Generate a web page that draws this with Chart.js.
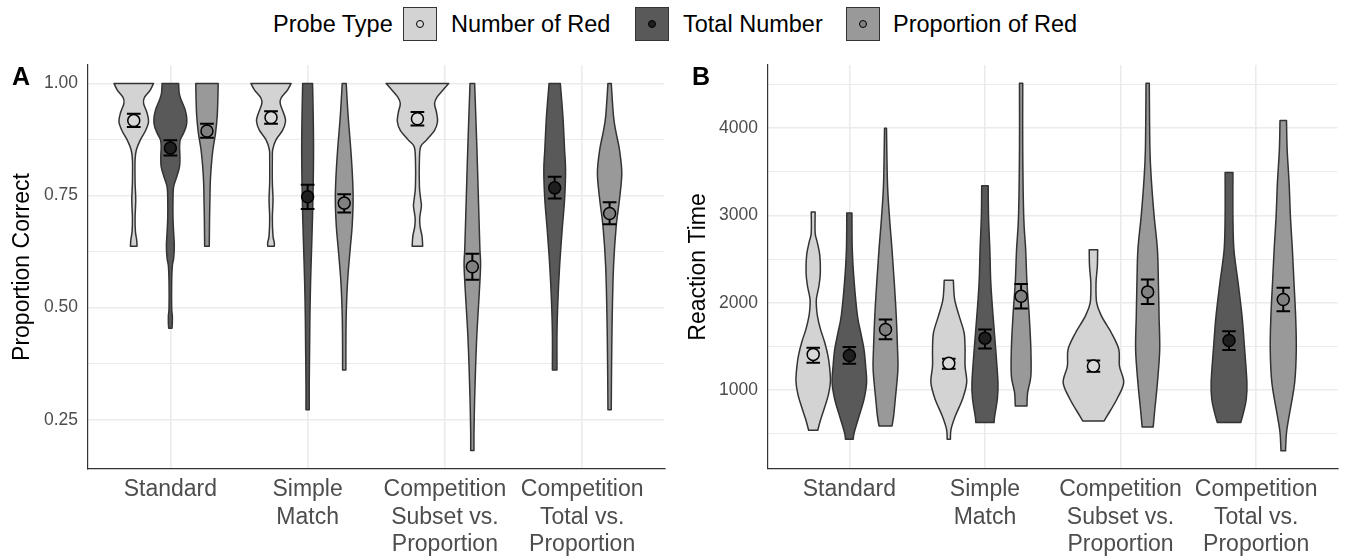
<!DOCTYPE html>
<html>
<head>
<meta charset="utf-8">
<script src="https://cdn.jsdelivr.net/npm/chart.js@4.4.1/dist/chart.umd.min.js"></script>
<style>
  body { margin: 0; background: #fff; width: 1345px; height: 558px; overflow: hidden; position: relative;
         font-family: 'Liberation Sans', Arial, sans-serif; }
  .lg { position: absolute; top: 7px; height: 35px; line-height: 35px; font-size: 23.5px; color: #000; white-space: nowrap; }
  .key { position: absolute; top: 7px; width: 32px; height: 32px; border: 1.5px solid #333; }
  .key i { position: absolute; left: 50%; top: 50%; width: 6px; height: 6px; margin: -4px 0 0 -4px;
           border: 1.2px solid #000; border-radius: 50%; }
  canvas { position: absolute; top: 0; }
  #chartA { left: 0; }
  #chartB { left: 680px; }
</style>
</head>
<body>
<span class="lg" style="left:273px">Probe Type</span>
<div class="key" style="left:403px;background:#d3d3d3"><i style="background:#d9d9d9"></i></div>
<span class="lg" style="left:451px">Number of Red</span>
<div class="key" style="left:635px;background:#595959"><i style="background:#1f1f1f"></i></div>
<span class="lg" style="left:683px">Total Number</span>
<div class="key" style="left:846px;background:#999999"><i style="background:#808080"></i></div>
<span class="lg" style="left:893px">Proportion of Red</span>
<canvas id="chartA" width="672" height="558"></canvas>
<canvas id="chartB" width="665" height="558"></canvas>
<script>
// categories and probe types
const categories = [['Standard'], ['Simple', 'Match'], ['Competition', 'Subset vs.', 'Proportion'], ['Competition', 'Total vs.', 'Proportion']];
const probeTypes = ['Number of Red', 'Total Number', 'Proportion of Red'];
const violinColors = ['#d3d3d3', '#595959', '#999999'];
const pointColors = ['#d9d9d9', '#1f1f1f', '#808080'];

// Panel A: proportion correct (mean, lower, upper of error bar); null = condition not tested
const accMeanNumberRed = [0.917, 0.924, 0.921, null];
const accLowNumberRed  = [0.903, 0.910, 0.906, null];
const accHighNumberRed = [0.932, 0.938, 0.936, null];
const accMeanTotal = [0.856, 0.747, null, 0.767];
const accLowTotal  = [0.839, 0.720, null, 0.743];
const accHighTotal = [0.873, 0.774, null, 0.792];
const accMeanProportion = [0.894, 0.733, 0.591, 0.710];
const accLowProportion  = [0.879, 0.712, 0.562, 0.686];
const accHighProportion = [0.910, 0.753, 0.620, 0.735];

// violin outlines: [value, relative density]
const accViolinNumberRed = [
  [[1.00,60],[0.985,50],[0.968,32],[0.955,30],[0.935,40],[0.915,45],[0.895,36],[0.874,20],[0.852,8],[0.83,4],[0.78,4],[0.74,6],[0.70,4],[0.67,5],[0.65,9],[0.637,10]],
  [[1.00,61],[0.985,50],[0.968,31],[0.955,28],[0.93,40],[0.915,44],[0.895,35],[0.874,15],[0.852,5],[0.83,4],[0.78,4],[0.74,6],[0.70,4],[0.66,6],[0.645,10],[0.637,10]],
  [[1.00,95],[0.989,82],[0.97,60],[0.955,52],[0.935,58],[0.915,61],[0.895,52],[0.874,28],[0.859,10],[0.83,6],[0.77,6],[0.741,10],[0.726,12],[0.70,7],[0.681,8],[0.659,14],[0.637,16]],
  null
];
const accViolinTotal = [
  [[1.00,25],[0.978,27],[0.963,33],[0.941,45],[0.92,50],[0.904,48],[0.889,40],[0.874,30],[0.859,28],[0.837,29],[0.815,28],[0.793,20],[0.77,10],[0.741,8],[0.70,8],[0.667,10],[0.637,12],[0.61,10],[0.593,6],[0.556,4],[0.50,4],[0.481,6],[0.465,6],[0.454,5]],
  [[1.00,15],[0.926,17],[0.852,18],[0.778,17],[0.704,15],[0.63,12],[0.556,9],[0.481,7],[0.407,6],[0.333,5],[0.272,5]],
  null,
  [[1.00,17],[0.926,25],[0.852,30],[0.807,33],[0.741,30],[0.667,22],[0.593,15],[0.519,10],[0.444,7],[0.361,7]]
];
const accViolinProportion = [
  [[1.00,34],[0.963,33],[0.926,31],[0.889,26],[0.852,18],[0.815,13],[0.778,10],[0.741,9],[0.704,8],[0.637,7]],
  [[1.00,6],[0.926,12],[0.852,20],[0.793,25],[0.741,27],[0.681,24],[0.63,18],[0.556,10],[0.481,6],[0.407,5],[0.361,5]],
  [[1.00,7],[0.852,14],[0.704,20],[0.63,23],[0.593,25],[0.519,20],[0.444,14],[0.37,10],[0.296,7],[0.222,5],[0.181,5]],
  [[1.00,5],[0.926,12],[0.889,20],[0.852,30],[0.80,37],[0.741,30],[0.681,20],[0.593,12],[0.481,8],[0.37,6],[0.272,5]]
];
const accTicks = [0.25, 0.50, 0.75, 1.00];
const accTickLabels = ['0.25', '0.50', '0.75', '1.00'];
const accMinorTicks = [0.375, 0.625, 0.875];

// Panel B: reaction time
const rtMeanNumberRed = [1408, 1305, 1274, null];
const rtLowNumberRed  = [1313, 1244, 1208, null];
const rtHighNumberRed = [1485, 1358, 1339, null];
const rtMeanTotal = [1396, 1594, null, 1568];
const rtLowTotal  = [1302, 1476, null, 1459];
const rtHighTotal = [1493, 1693, null, 1674];
const rtMeanProportion = [1694, 2074, 2124, 2037];
const rtLowProportion  = [1580, 1934, 1986, 1903];
const rtHighProportion = [1808, 2215, 2265, 2170];

const rtViolinNumberRed = [
  [[3039,6],[2800,6],[2700,12],[2550,20],[2350,22],[2200,18],[2050,10],[1950,10],[1846,13],[1700,22],[1550,35],[1400,45],[1274,50],[1100,53],[950,47],[800,35],[650,22],[539,14]],
  [[2257,14],[2037,18],[1846,32],[1656,47],[1465,50],[1274,50],[1084,55],[894,42],[703,20],[551,7],[437,5]],
  [[2608,13],[2417,12],[2227,8],[1999,10],[1846,25],[1750,40],[1656,55],[1465,78],[1274,80],[1084,93],[894,72],[703,42],[646,33]],
  null
];
const rtViolinTotal = [
  [[3027,8],[2608,9],[2227,15],[1846,25],[1656,35],[1465,45],[1274,50],[1084,53],[894,45],[703,30],[513,15],[437,12]],
  [[3339,10],[2989,11],[2608,15],[2227,18],[1846,25],[1465,33],[1084,40],[894,38],[703,30],[627,28]],
  null,
  [[3492,12],[2989,12],[2608,15],[2227,28],[1846,40],[1465,48],[1084,55],[894,53],[750,45],[627,36]]
];
const rtViolinProportion = [
  [[3999,3],[3370,6],[2989,12],[2608,20],[2227,27],[1846,33],[1465,37],[1230,38],[894,30],[703,25],[589,20]],
  [[4513,5],[3751,5],[2989,8],[2608,14],[2227,18],[1846,25],[1465,30],[1160,30],[970,20],[817,18]],
  [[4513,5],[3751,7],[3370,12],[2989,20],[2608,30],[2227,33],[1846,35],[1465,37],[1084,30],[779,22],[577,17]],
  [[4086,10],[3751,12],[3370,18],[2989,22],[2608,28],[2227,33],[1846,38],[1465,40],[1084,35],[703,18],[513,10],[303,7]]
];
const rtTicks = [1000, 2000, 3000, 4000];
const rtTickLabels = ['1000', '2000', '3000', '4000'];
const rtMinorTicks = [500, 1500, 2500, 3500, 4500];

const FONT = "'Liberation Sans', Arial, sans-serif";
const DENSITY_WIDTH = 0.0024; // category units per density unit

function xPos(panel, i, k) {
  const present = [0, 1, 2].filter(g => panel.means[g][i] !== null);
  const n = present.length;
  return i + (present.indexOf(k) - (n - 1) / 2) * 0.8 / n;
}

function spline(ctx, pts) {
  for (let i = 0; i < pts.length - 1; i++) {
    const p0 = pts[i - 1] || pts[i], p1 = pts[i], p2 = pts[i + 1], p3 = pts[i + 2] || p2;
    ctx.bezierCurveTo(p1[0] + (p2[0] - p0[0]) / 6, p1[1] + (p2[1] - p0[1]) / 6,
                      p2[0] - (p3[0] - p1[0]) / 6, p2[1] - (p3[1] - p1[1]) / 6, p2[0], p2[1]);
  }
}

function makePanelPlugin(panel) {
  return {
    id: 'violins',
    beforeDatasetsDraw(chart) {
      const {ctx, chartArea, scales: {x, y}} = chart;
      ctx.save();
      ctx.beginPath();
      ctx.rect(chartArea.left, chartArea.top, chartArea.width, chartArea.height);
      ctx.clip();
      // violins
      categories.forEach((c, i) => {
        [0, 1, 2].forEach(k => {
          const prof = panel.violins[k][i];
          if (!prof) return;
          const cx = xPos(panel, i, k);
          const right = prof.map(([v, d]) => [x.getPixelForValue(cx + d * DENSITY_WIDTH), y.getPixelForValue(v)]);
          const left = prof.map(([v, d]) => [x.getPixelForValue(cx - d * DENSITY_WIDTH), y.getPixelForValue(v)]).reverse();
          ctx.beginPath();
          ctx.moveTo(right[0][0], right[0][1]);
          spline(ctx, right);
          ctx.lineTo(left[0][0], left[0][1]);
          spline(ctx, left);
          ctx.closePath();
          ctx.fillStyle = violinColors[k];
          ctx.fill();
          ctx.lineWidth = 1.5;
          ctx.lineJoin = 'round';
          ctx.strokeStyle = '#333333';
          ctx.stroke();
        });
      });
      // error bars
      ctx.strokeStyle = '#000';
      ctx.lineWidth = 2;
      categories.forEach((c, i) => {
        [0, 1, 2].forEach(k => {
          if (panel.means[k][i] === null) return;
          const cx = xPos(panel, i, k);
          const px = x.getPixelForValue(cx);
          const x0 = x.getPixelForValue(cx - 0.05), x1 = x.getPixelForValue(cx + 0.05);
          const yl = y.getPixelForValue(panel.lows[k][i]), yh = y.getPixelForValue(panel.highs[k][i]);
          ctx.beginPath();
          ctx.moveTo(px, yl); ctx.lineTo(px, yh);
          ctx.moveTo(x0, yl); ctx.lineTo(x1, yl);
          ctx.moveTo(x0, yh); ctx.lineTo(x1, yh);
          ctx.stroke();
        });
      });
      ctx.restore();
    },
    afterDraw(chart) {
      const ctx = chart.ctx;
      ctx.save();
      ctx.font = 'bold 25px ' + FONT;
      ctx.fillStyle = '#000';
      ctx.textBaseline = 'alphabetic';
      ctx.fillText(panel.letter, 12, 85);
      ctx.restore();
    }
  };
}

function buildPanel(canvasId, panel) {
  const datasets = [0, 1, 2].map(k => ({
    label: probeTypes[k],
    data: categories.map((c, i) => panel.means[k][i] === null ? null : {x: xPos(panel, i, k), y: panel.means[k][i]}).filter(p => p),
    pointRadius: 6,
    pointBackgroundColor: pointColors[k],
    pointBorderColor: '#000',
    pointBorderWidth: 1.5,
    showLine: false
  }));
  const allTicks = panel.ticks.map(v => ({value: v, major: true}))
    .concat(panel.minor.map(v => ({value: v, major: false})))
    .sort((a, b) => a.value - b.value);
  return new Chart(document.getElementById(canvasId), {
    type: 'scatter',
    data: {datasets: datasets},
    plugins: [makePanelPlugin(panel)],
    options: {
      responsive: false,
      animation: false,
      events: [],
      layout: {padding: {top: 65, right: panel.padRight, left: 0, bottom: 0}},
      plugins: {legend: {display: false}, tooltip: {enabled: false}},
      scales: {
        x: {
          type: 'linear', min: -0.6, max: 3.6,
          afterBuildTicks: s => { s.ticks = categories.map((c, i) => ({value: i})); },
          afterFit: s => { s.height = 89; },
          ticks: {
            callback: (v, i) => categories[i],
            autoSkip: false, maxRotation: 0, padding: 7,
            color: '#4d4d4d', font: {size: 23, family: FONT, lineHeight: 1.2}
          },
          grid: {color: '#ebebeb', lineWidth: 1.6, drawTicks: false},
          border: {display: true, color: '#333333', width: 1.2}
        },
        y: {
          type: 'linear', min: panel.yMin, max: panel.yMax,
          afterBuildTicks: s => { s.ticks = allTicks.map(t => ({value: t.value, major: t.major})); },
          afterFit: s => { s.width = 88; },
          ticks: {
            callback: v => { const j = panel.ticks.indexOf(v); return j >= 0 ? panel.tickLabels[j] : ''; },
            autoSkip: false, padding: 10,
            color: '#4d4d4d', font: {size: 17.5, family: FONT}
          },
          grid: {
            color: '#ebebeb', drawTicks: false,
            lineWidth: ctx => (ctx.tick && ctx.tick.major) ? 1.6 : 1.1
          },
          border: {display: true, color: '#333333', width: 1.2},
          title: {
            display: true, text: panel.title, color: '#000',
            font: {size: 23, family: FONT, lineHeight: 1.2}, padding: {top: panel.titlePad, bottom: 0}
          }
        }
      }
    }
  });
}

buildPanel('chartA', {
  letter: 'A', title: 'Proportion Correct', titlePad: 9, padRight: 4,
  yMin: 0.14, yMax: 1.041,
  ticks: accTicks, tickLabels: accTickLabels, minor: accMinorTicks,
  means: [accMeanNumberRed, accMeanTotal, accMeanProportion],
  lows: [accLowNumberRed, accLowTotal, accLowProportion],
  highs: [accHighNumberRed, accHighTotal, accHighProportion],
  violins: [accViolinNumberRed, accViolinTotal, accViolinProportion]
});

buildPanel('chartB', {
  letter: 'B', title: 'Reaction Time', titlePad: 5, padRight: 1,
  yMin: 95, yMax: 4723,
  ticks: rtTicks, tickLabels: rtTickLabels, minor: rtMinorTicks,
  means: [rtMeanNumberRed, rtMeanTotal, rtMeanProportion],
  lows: [rtLowNumberRed, rtLowTotal, rtLowProportion],
  highs: [rtHighNumberRed, rtHighTotal, rtHighProportion],
  violins: [rtViolinNumberRed, rtViolinTotal, rtViolinProportion]
});
</script>
</body>
</html>
